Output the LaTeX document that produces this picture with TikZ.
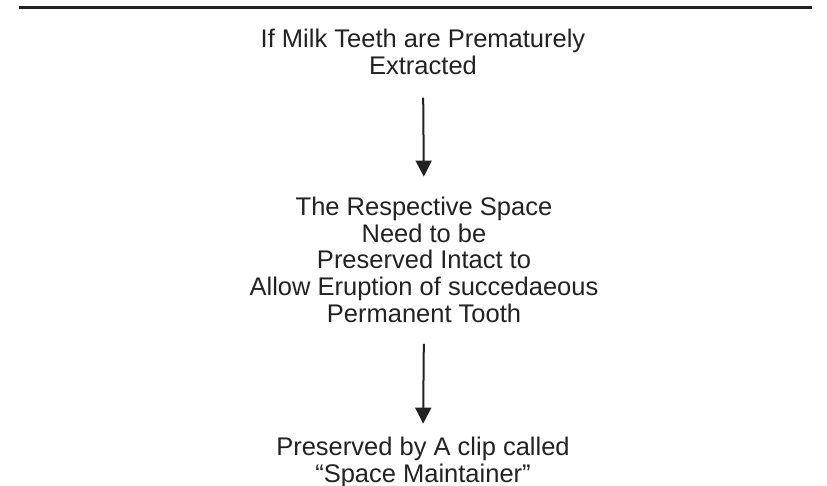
\documentclass[tikz,border=0pt]{standalone}
\usepackage{fontspec}
\setmainfont{Liberation Sans}
\usetikzlibrary{arrows.meta}
\definecolor{ink}{HTML}{222222}
\tikzset{
  stage/.style={align=center, inner sep=0pt, anchor=north, text=ink,
    font=\fontsize{25.5pt}{26.8pt}\selectfont},
  flow/.style={draw=ink, line width=2pt,
    -{Triangle[width=16pt,length=16pt]}},
  rule/.style={draw=ink, line width=3pt}
}
\begin{document}
\begin{tikzpicture}[x=1pt, y=-1pt]
  \useasboundingbox (0,0) rectangle (827,486);
  % heading rule
  \draw[rule] (19,8) -- (812,8);
  % the three stages
  \node[stage] (extract) at (423,28.6)
    {If Milk Teeth are Prematurely\\Extracted};
  \node[stage] (space) at (424,196.6)
    {The Respective Space\\Need to be\\Preserved Intact to\\Allow Eruption of succedaeous\\Permanent Tooth};
  \node[stage] (clip) at (423,436.6)
    {Preserved by A clip called\\“Space Maintainer”};
  % connectors
  \draw[flow, shorten <=23pt, shorten >=20pt] (extract.south) -- (space.north);
  \draw[flow, shorten <=21pt, shorten >=13pt] (space.south) -- (clip.north);
\end{tikzpicture}
\end{document}
